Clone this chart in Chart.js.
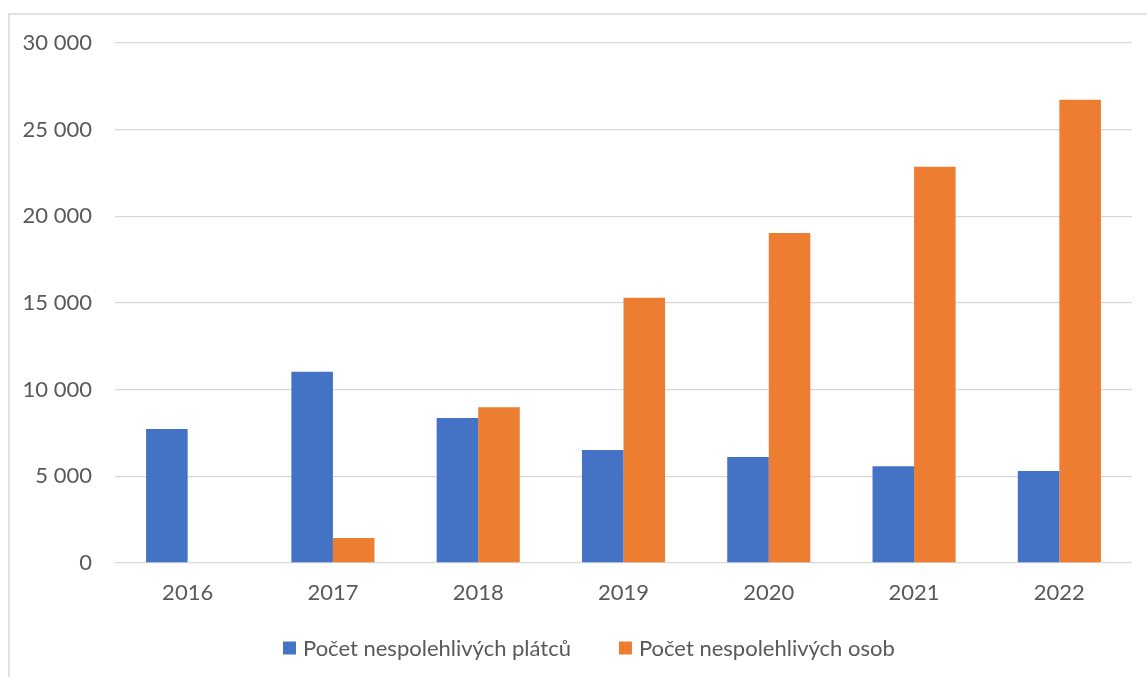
<!DOCTYPE html>
<html lang="cs">
<head>
<meta charset="utf-8">
<title>Nespolehliví plátci a osoby</title>
<script src="https://cdn.jsdelivr.net/npm/chart.js@4.4.1/dist/chart.umd.min.js"></script>
<style>
  html, body { margin: 0; padding: 0; background: #ffffff; }
  #wrap { width: 1147px; height: 677px; position: relative; }
</style>
</head>
<body>
<div id="wrap"><canvas id="chart" width="1147" height="677"></canvas></div>
<script>
// Roky
const years = ['2016', '2017', '2018', '2019', '2020', '2021', '2022'];

// Počet nespolehlivých plátců
const payers = [7730, 11030, 8370, 6520, 6110, 5580, 5310];

// Počet nespolehlivých osob (2016 bez údaje)
const persons = [null, 1440, 8990, 15300, 19040, 22860, 26730];

// Popisky řad
const seriesNames = ['Počet nespolehlivých plátců', 'Počet nespolehlivých osob'];

// Osa Y
const yMin = 0;
const yMax = 30000;
const yStep = 5000;

const BLUE = '#4472C4';
const ORANGE = '#ED7D31';
const TEXT = '#595959';
const GRID = '#d9d9d9';
const FONT = 'Lato, "Open Sans", sans-serif';

function formatThousands(v) {
  return String(v).replace(/\B(?=(\d{3})+(?!\d))/g, ' ');
}

// Bílé pozadí a světlý rámeček kolem grafu
const frame = {
  id: 'frame',
  beforeDraw(chart) {
    const ctx = chart.ctx;
    ctx.save();
    ctx.fillStyle = '#ffffff';
    ctx.fillRect(0, 0, chart.width, chart.height);
    ctx.strokeStyle = GRID;
    ctx.lineWidth = 1.5;
    ctx.strokeRect(9, 14, chart.width + 20, chart.height + 20);
    ctx.restore();
  }
};

// Legenda pod grafem
const legendRow = {
  id: 'legendRow',
  afterDraw(chart, args, opts) {
    const ctx = chart.ctx;
    ctx.save();
    ctx.font = opts.fontSize + 'px ' + FONT;
    ctx.textBaseline = 'middle';
    ctx.textAlign = 'left';
    let x = opts.x;
    const y = opts.y;
    chart.data.datasets.forEach((ds) => {
      ctx.fillStyle = ds.backgroundColor;
      ctx.fillRect(x, y - opts.box / 2, opts.box, opts.box);
      x += opts.box + opts.gap;
      ctx.fillStyle = TEXT;
      ctx.fillText(ds.label, x, y + 1);
      x += ctx.measureText(ds.label).width + opts.spacing;
    });
    ctx.restore();
  }
};

new Chart(document.getElementById('chart'), {
  type: 'bar',
  data: {
    labels: years,
    datasets: [
      { label: seriesNames[0], data: payers, backgroundColor: BLUE },
      { label: seriesNames[1], data: persons, backgroundColor: ORANGE }
    ]
  },
  plugins: [frame, legendRow],
  options: {
    responsive: false,
    animation: false,
    devicePixelRatio: 1,
    layout: { padding: { top: 43, right: 15, bottom: 0, left: 0 } },
    datasets: {
      bar: { categoryPercentage: 0.572, barPercentage: 1.0 }
    },
    scales: {
      x: {
        grid: { display: false, drawTicks: false },
        border: { display: false },
        ticks: {
          color: TEXT,
          font: { family: FONT, size: 22 },
          padding: 17
        },
        afterFit(scale) { scale.height = 114; }
      },
      y: {
        min: yMin,
        max: yMax,
        grid: { color: GRID, lineWidth: 1.3, drawTicks: false },
        border: { display: false },
        ticks: {
          stepSize: yStep,
          color: TEXT,
          font: { family: FONT, size: 22 },
          padding: 23,
          callback: (v) => formatThousands(v)
        },
        afterFit(scale) { scale.width = 115; }
      }
    },
    plugins: {
      legend: { display: false },
      tooltip: { enabled: false },
      legendRow: { x: 283, y: 648, box: 13, gap: 7, spacing: 48, fontSize: 22 }
    }
  }
});
</script>
</body>
</html>
